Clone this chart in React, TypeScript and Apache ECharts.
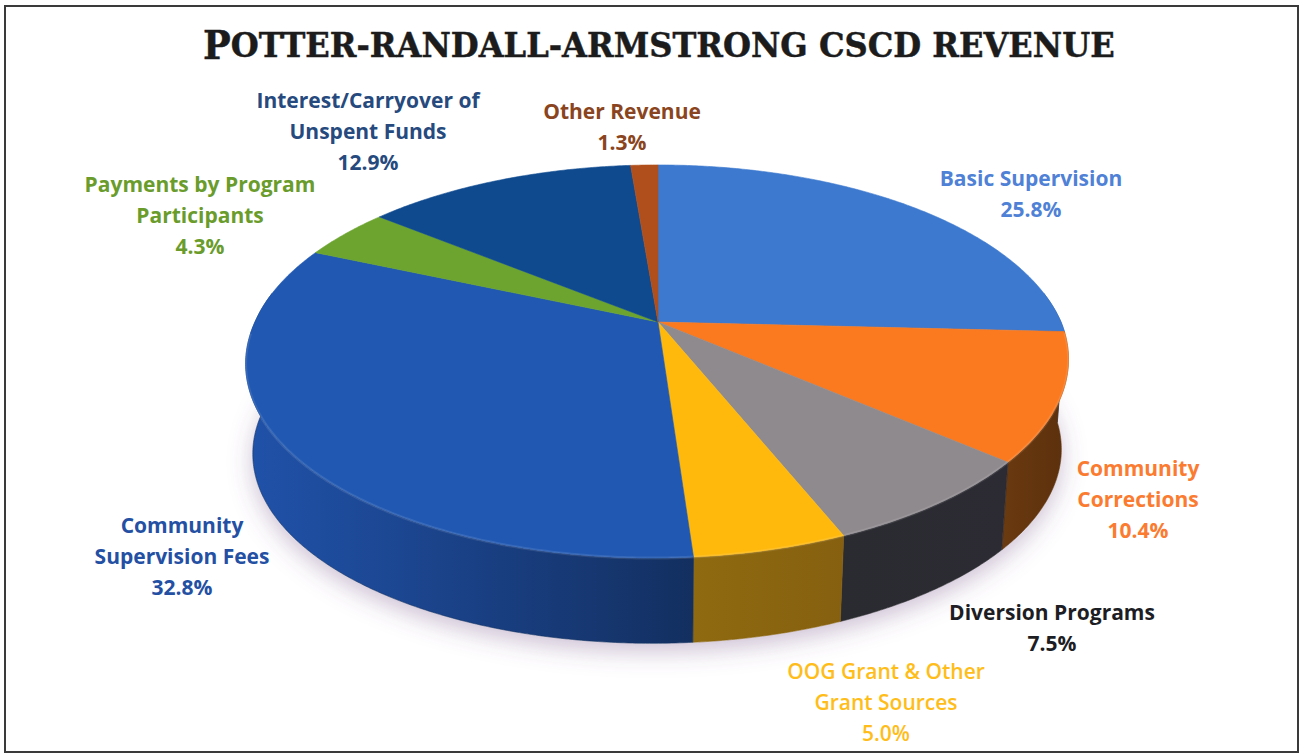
import React, { useEffect, useRef } from "react";
import * as echarts from "echarts";

// Revenue shares in percent, clockwise from twelve o'clock.
const categories = [
  "Basic Supervision",
  "Community Corrections",
  "Diversion Programs",
  "OOG Grant & Other Grant Sources",
  "Community Supervision Fees",
  "Payments by Program Participants",
  "Interest/Carryover of Unspent Funds",
  "Other Revenue",
];
const shares = [25.8, 10.4, 7.5, 5.0, 32.8, 4.3, 12.9, 1.3];

const labelLines = [
  ["Basic Supervision"],
  ["Community", "Corrections"],
  ["Diversion Programs"],
  ["OOG Grant & Other", "Grant Sources"],
  ["Community", "Supervision Fees"],
  ["Payments by Program", "Participants"],
  ["Interest/Carryover of", "Unspent Funds"],
  ["Other Revenue"],
];

const topColors = ["#3c79cf", "#fb7a1f", "#8f8a8e", "#ffb90d", "#2058b2", "#6ca42f", "#0f4a8f", "#b04f1b"];
const wallFrom = ["#2d5a99", "#6a3a10", "#2a2a31", "#8f6a10", "#2052aa", "#4a7020", "#0a3060", "#70300f"];
const wallTo = ["#2d5a99", "#5c300d", "#2c2b33", "#86600f", "#132f60", "#4a7020", "#0a3060", "#70300f"];
const labelColors = ["#4f81d6", "#fb7b30", "#1d1d24", "#ffbd1a", "#2450a4", "#6a9c2c", "#264a7e", "#8a4520"];
const labelWeights = [700, 700, 700, 600, 700, 700, 700, 700];
const labelPlaces = [
  [1031, 178],
  [1138, 468],
  [1052, 612],
  [886, 671],
  [182, 525],
  [200, 184],
  [368, 100],
  [622, 111],
];

const TITLE_HEAD = "P";
const TITLE_TAIL = "OTTER-RANDALL-ARMSTRONG CSCD REVENUE";

// Perspective disc: the hub is nearer the far rim than the near rim,
// and the near rim leans slightly to the left.
const HUB_X = 658;
const TILT = -0.201;
const NEAR_LEAN = -4.5;
const TOP_FACE = { y: 322, a: 403, b: 188.6 };
const BASE_FACE = { y: 413, a: 396, b: 184 };
const STEP = Math.PI / 360;
const LINE_HEIGHT = 31;

type Face = { y: number; a: number; b: number };

function project(face: Face, theta: number): number[] {
  const u = Math.sin(theta);
  const v = -Math.cos(theta);
  const w = 1 + TILT * v;
  return [
    HUB_X + (face.a * u + NEAR_LEAN * Math.max(v, 0)) / w,
    face.y + (face.b * v) / w,
  ];
}

function arc(face: Face, from: number, to: number): number[][] {
  const pts: number[][] = [];
  const n = Math.max(1, Math.ceil((to - from) / STEP));
  for (let i = 0; i <= n; i++) pts.push(project(face, from + ((to - from) * i) / n));
  return pts;
}

// Cumulative [start, end, index] per slice, in radians from twelve o'clock.
const total = shares.reduce((s, v) => s + v, 0);
let running = 0;
const sliceData = shares.map((v, i) => {
  const start = (running / total) * Math.PI * 2;
  running += v;
  return { name: categories[i], value: [start, (running / total) * Math.PI * 2, i] };
});

const renderTop = (_: any, api: any) => {
  const start = api.value(0);
  const end = api.value(1);
  const i = api.value(2);
  const rim = arc(TOP_FACE, start, end);
  return {
    type: "group",
    children: [
      {
        type: "polygon",
        shape: { points: [[HUB_X, TOP_FACE.y], ...rim] },
        style: { fill: topColors[i], stroke: topColors[i], lineWidth: 0.6 },
      },
      {
        type: "polyline",
        shape: { points: rim.filter((p) => p[1] > TOP_FACE.y + 10) },
        style: { fill: "none", stroke: "rgba(255,255,255,0.10)", lineWidth: 3 },
      },
    ],
  };
};

const renderWall = (_: any, api: any) => {
  const i = api.value(2);
  // Only the near half of the rim can show below the top face.
  const start = Math.max(api.value(0), Math.PI * 0.45);
  const end = Math.min(api.value(1), Math.PI * 1.55);
  if (end <= start) return null;
  const upper = arc(TOP_FACE, start, end);
  const lower = arc(BASE_FACE, start, end).reverse();
  return {
    type: "polygon",
    shape: { points: [...upper, ...lower] },
    style: {
      fill: {
        type: "linear",
        x: 1,
        y: 0,
        x2: 0,
        y2: 0,
        colorStops: [
          { offset: 0, color: wallTo[i] },
          { offset: 1, color: wallFrom[i] },
        ],
      },
      stroke: wallTo[i],
      lineWidth: 0.6,
    },
  };
};

// Soft shadow under the whole disc.
const renderShadow = () => ({
  type: "polygon",
  shape: { points: arc(BASE_FACE, 0, Math.PI * 2) },
  style: {
    fill: "#ffffff",
    shadowBlur: 24,
    shadowColor: "rgba(110,70,130,0.35)",
    shadowOffsetY: 8,
  },
});

const labelGraphics = shares.map((v, i) => ({
  type: "text",
  x: labelPlaces[i][0],
  y: labelPlaces[i][1] - LINE_HEIGHT / 2,
  style: {
    text: [...labelLines[i], `${v.toFixed(1)}%`].join("\n"),
    fill: labelColors[i],
    font: `${labelWeights[i]} 21px "Open Sans", sans-serif`,
    textAlign: "center",
    textVerticalAlign: "top",
    lineHeight: LINE_HEIGHT,
  },
}));

export default function App() {
  const ref = useRef<HTMLDivElement>(null);
  useEffect(() => {
    const chart = echarts.init(ref.current!, undefined, { renderer: "svg" });
    chart.setOption({
      animation: false,
      backgroundColor: "#ffffff",
      series: [
        {
          type: "custom",
          coordinateSystem: "none",
          silent: true,
          z: 1,
          data: [[0]],
          renderItem: renderShadow,
        },
        {
          type: "custom",
          coordinateSystem: "none",
          silent: true,
          z: 2,
          data: sliceData,
          renderItem: renderWall,
        },
        {
          type: "custom",
          coordinateSystem: "none",
          silent: true,
          z: 3,
          data: sliceData,
          renderItem: renderTop,
        },
      ],
      graphic: [
        {
          type: "rect",
          z: 0,
          shape: { x: 5, y: 6, width: 1293, height: 746 },
          style: { fill: "none", stroke: "#3a3a3a", lineWidth: 2 },
        },
        {
          type: "text",
          x: 203,
          y: 45,
          scaleX: 0.945,
          style: {
            text: `{a|${TITLE_HEAD}}{b|${TITLE_TAIL}}`,
            textAlign: "left",
            textVerticalAlign: "middle",
            rich: {
              a: { font: `bold 39px "DejaVu Serif", serif`, fill: "#1c1c1c", stroke: "#1c1c1c", lineWidth: 0.5 },
              b: { font: `bold 34px "DejaVu Serif", serif`, fill: "#1c1c1c", stroke: "#1c1c1c", lineWidth: 0.5 },
            },
          },
        },
        ...labelGraphics,
      ],
    });
    return () => chart.dispose();
  }, []);
  return (
    <div
      ref={ref}
      style={{ position: "fixed", left: 0, top: 0, width: 1303, height: 754 }}
    />
  );
}
